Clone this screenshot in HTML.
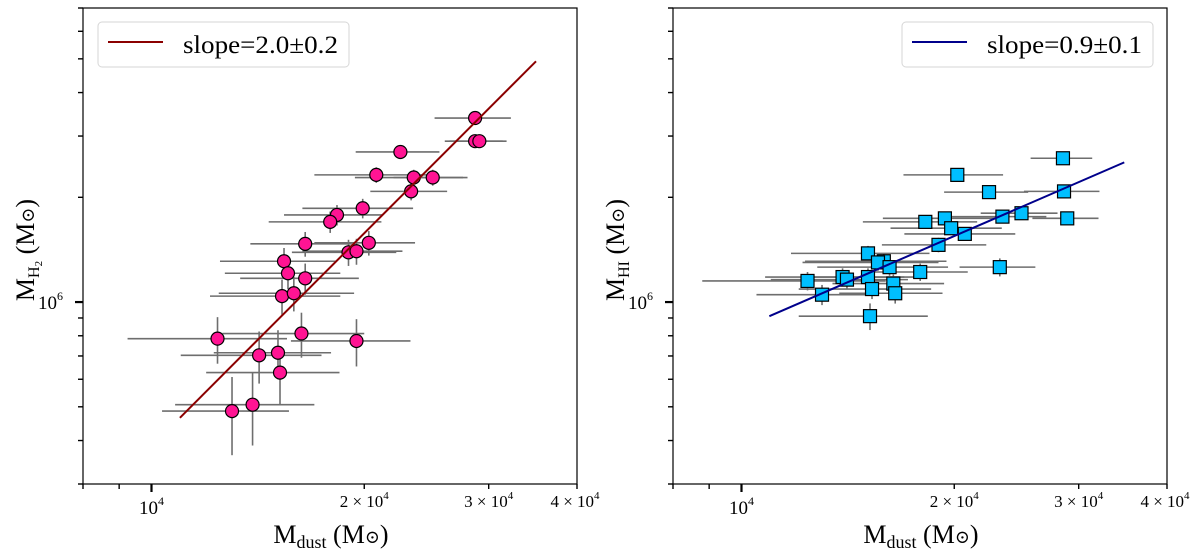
<!DOCTYPE html>
<html><head><meta charset="utf-8"><style>
html,body{margin:0;padding:0;background:#fff;}
svg{display:block;font-family:"Liberation Serif","DejaVu Serif",serif;}
</style></head><body>
<svg id="fig" width="1200" height="554" viewBox="0 0 1200 554" xmlns="http://www.w3.org/2000/svg"></svg>
<script>
// Mdust in units of 1e3 Msun, gas masses in units of 1e5 Msun
const h2Dust = [28.7,28.7,29.1,22.5,20.8,23.5,25.0,23.3,19.9,18.3,17.9,16.5,20.3,19.0,19.5,15.4,15.6,16.5,15.3,15.9,12.4,16.3,19.5,14.2,15.1,15.2,13.9,13.0];
const h2DustErr = [3.55,2.7,2.7,3.05,3.8,4.1,3.0,2.9,3.55,2.9,3.25,2.7,3.3,3.2,3.15,2.9,2.9,3.15,3.2,3.45,3.15,3.7,3.75,3.2,2.85,3.25,3.1,2.65];
const h2Mass = [33.8,29.0,29.0,27.0,23.2,22.8,22.8,20.8,18.6,17.8,17.0,14.7,14.8,13.9,14.0,13.1,12.1,11.7,10.4,10.6,7.85,8.12,7.73,7.03,7.15,6.27,5.07,4.86];
const h2MassErr = [1.2,1.2,1.2,1.2,1.2,1.2,1.2,1.2,1.2,1.2,1.2,1.2,1.2,1.2,1.2,1.2,1.2,1.2,1.2,1.2,1.2,1.2,1.2,1.2,1.15,1.2,1.2,1.23];
const h2FitX = [10.97,35.0];
const h2FitY = [4.65,49.2];

const hiDust = [28.5,20.2,22.4,28.6,23.4,24.9,28.9,18.2,19.4,19.8,20.7,19.0,15.1,15.9,15.6,16.2,17.9,23.2,12.4,13.9,14.1,15.1,16.4,15.3,16.5,13.0,15.2];
const hiDustErr = [2.85,3.25,3.05,3.5,3.6,3.1,3.1,3.35,3.55,3.55,3.7,3.2,3.35,3.6,3.4,3.4,3.0,2.85,3.6,3.1,3.1,2.75,2.95,3.25,2.75,2.5,3.15];
const hiMass = [25.9,23.2,20.7,20.8,17.6,18.0,17.4,17.0,17.4,16.3,15.7,14.6,13.8,13.1,13.0,12.6,12.2,12.6,11.5,11.8,11.6,11.8,11.3,10.9,10.6,10.5,9.11];
const hiMassErr = [0.7,0.7,0.7,0.7,0.7,0.7,0.7,0.7,0.7,0.7,0.7,0.7,0.7,0.7,0.7,0.7,0.7,0.75,0.7,0.7,0.7,0.7,0.7,0.7,0.7,0.7,0.8];
const hiFitX = [10.95,34.8];
const hiFitY = [9.11,25.2];

const xTickVals = [10, 20, 30, 40];
const xTickLabels = ["10<tspan dy='-9' font-size='12'>4</tspan>","2 × 10<tspan dy='-8' font-size='11'>4</tspan>","3 × 10<tspan dy='-8' font-size='11'>4</tspan>","4 × 10<tspan dy='-8' font-size='11'>4</tspan>"];
const xMinor = [8, 9, 20, 30, 40];
const yMinor = [3,4,5,6,7,8,9,20,30,40,50,60,70];
const yMajor = [10];

const NS = "http://www.w3.org/2000/svg";
const svg = document.getElementById('fig');
function mk(tag, attrs, parent){ const e=document.createElementNS(NS,tag); for(const k in attrs) e.setAttribute(k,attrs[k]); (parent||svg).appendChild(e); return e; }

const W=494, H=476, TOP=8;
const XMIN=Math.log10(8), XMAX=Math.log10(40), YMIN=Math.log10(3), YMAX=Math.log10(70);

function panel(left, cfg){
  const g = mk('g',{});
  
  
  const sx = v => left + (Math.log10(v)-XMIN)/(XMAX-XMIN)*W;
  const sy = v => TOP + H - (Math.log10(v)-YMIN)/(YMAX-YMIN)*H;
  for(let i=0;i<cfg.x.length;i++){
    const eb = mk('g',{stroke:'#6e6e6e','stroke-width':1.6},g);
    
    
    mk('line',{x1:sx(cfg.x[i]-cfg.xe[i]),x2:sx(cfg.x[i]+cfg.xe[i]),y1:sy(cfg.y[i]),y2:sy(cfg.y[i])},eb);
    mk('line',{x1:sx(cfg.x[i]),x2:sx(cfg.x[i]),y1:sy(cfg.y[i]+cfg.ye[i]),y2:sy(cfg.y[i]-cfg.ye[i])},eb);
  }
  for(let i=0;i<cfg.x.length;i++){
    const cx=sx(cfg.x[i]), cy=sy(cfg.y[i]);
    let m;
    if(cfg.marker==='circle') m = mk('circle',{cx:cx,cy:cy,r:6.5,fill:cfg.color,stroke:'#000','stroke-width':1.2},g);
    else m = mk('rect',{x:cx-6.5,y:cy-6.5,width:13,height:13,fill:cfg.color,stroke:'#000','stroke-width':1.2},g);
    
    
  }
  const fl = mk('line',{x1:sx(cfg.fx[0]),y1:sy(cfg.fy[0]),x2:sx(cfg.fx[1]),y2:sy(cfg.fy[1]),stroke:cfg.lineColor,'stroke-width':2},g);
  
  
  const fr = mk('rect',{x:left,y:TOP,width:W,height:H,fill:'none',stroke:'#000','stroke-width':1.2},g);
  
  
  xMinor.forEach(v=>{ const t=mk('line',{x1:sx(v),x2:sx(v),y1:TOP+H,y2:TOP+H+5,stroke:'#000','stroke-width':1.4},g);
      });
  const mj = mk('line',{x1:sx(10),x2:sx(10),y1:TOP+H,y2:TOP+H+8,stroke:'#000','stroke-width':2.2},g);
   
  xTickVals.forEach((v,i)=>{
    const t = mk('text',{x:sx(v)-(i===3?2:0),y:i===0?514:507,'text-anchor':'middle','font-size':i===0?19:17},g);
    t.innerHTML = xTickLabels[i];
     
  });
  yMinor.forEach(v=>{ const t=mk('line',{x1:left-5,x2:left,y1:sy(v),y2:sy(v),stroke:'#000','stroke-width':1.4},g);
      });
  yMajor.forEach(v=>{ const t=mk('line',{x1:left-8,x2:left,y1:sy(v),y2:sy(v),stroke:'#000','stroke-width':2.2},g);
     
    const l=mk('text',{x:left-20,y:sy(v)+7,'text-anchor':'end','font-size':19},g);
    l.innerHTML="10<tspan dy='-9' font-size='12'>6</tspan>";
      });
  const xt = mk('text',{x:left+248,y:543,'text-anchor':'middle','font-size':26},g);
  xt.innerHTML = "M<tspan dy='5' font-size='18'>dust</tspan><tspan dy='-5'> (M</tspan><tspan font-size='18'>⊙</tspan>)";
   
  const yt = mk('text',{x:0,y:0,'text-anchor':'middle','font-size':26,transform:`translate(${left-49},250) rotate(-90)`},g);
  yt.innerHTML = cfg.ylabel;
   
  const lg = mk('g',{},g);
   
  mk('rect',{x:cfg.lgx,y:22,width:251,height:45,rx:4,fill:'#fff',stroke:'#d6d6d6','stroke-width':1},lg);
  const ll = mk('line',{x1:cfg.lgx+10,x2:cfg.lgx+65,y1:42,y2:42,stroke:cfg.lineColor,'stroke-width':2},lg);
   
  const lt = mk('text',{x:cfg.lgx+85,y:53,'font-size':25,textLength:155,lengthAdjust:'spacingAndGlyphs'},lg);
  lt.textContent = cfg.legend;
   
}

panel(83,{name:'h2-panel',x:h2Dust,xe:h2DustErr,y:h2Mass,ye:h2MassErr,fx:h2FitX,fy:h2FitY,marker:'circle',color:'#ff1493',lineColor:'#8b0000',
  ylabel:"M<tspan dy='5' font-size='16'>H</tspan><tspan dy='3' font-size='11'>2</tspan><tspan dy='-8'> (M</tspan><tspan font-size='18'>⊙</tspan>)",lgx:98,legend:'slope=2.0±0.2'});
panel(673,{name:'hi-panel',x:hiDust,xe:hiDustErr,y:hiMass,ye:hiMassErr,fx:hiFitX,fy:hiFitY,marker:'square',color:'#00bfff',lineColor:'#00008b',
  ylabel:"M<tspan dy='5' font-size='16'>HI</tspan><tspan dy='-5'> (M</tspan><tspan font-size='18'>⊙</tspan>)",lgx:902,legend:'slope=0.9±0.1'});
</script>
</body></html>
